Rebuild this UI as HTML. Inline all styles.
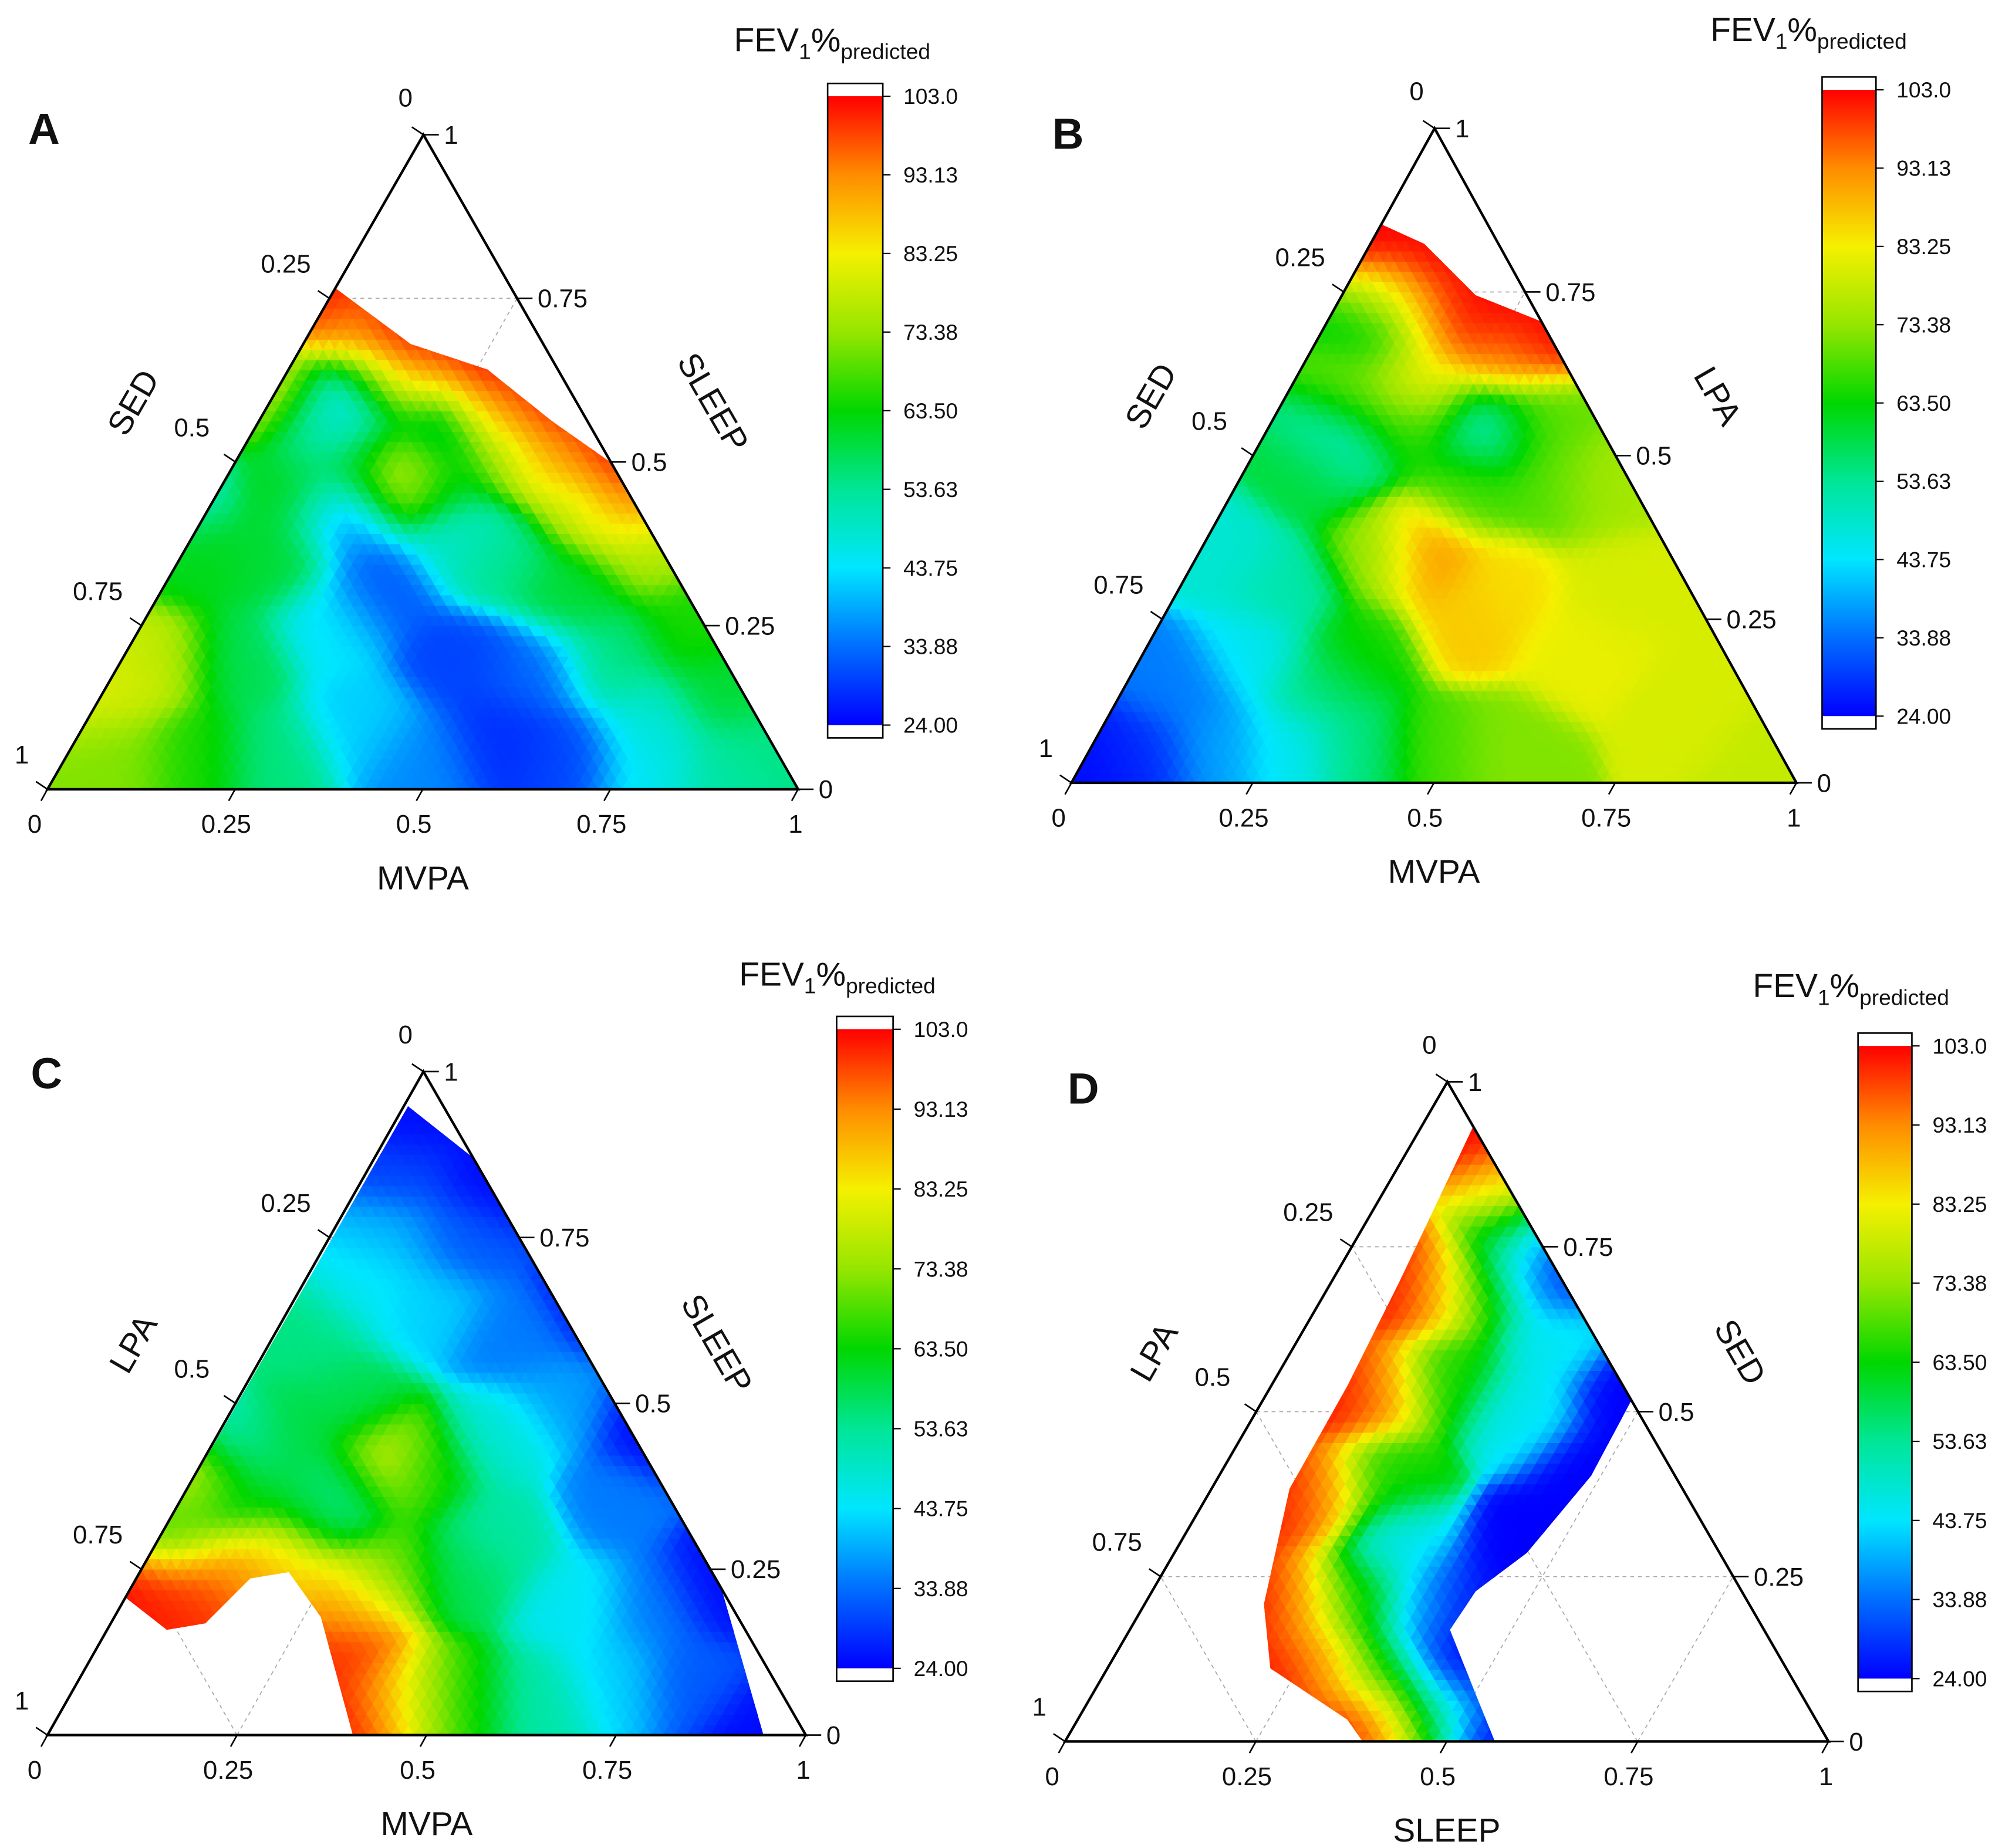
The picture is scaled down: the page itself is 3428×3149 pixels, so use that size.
<!DOCTYPE html>
<html><head><meta charset="utf-8"><style>
html,body{margin:0;padding:0;background:#fff}
svg{display:block}
text{font-family:"Liberation Sans",sans-serif;fill:#111}
</style></head><body>
<svg id="fig" width="3428" height="3149" viewBox="0 0 1568 1440" preserveAspectRatio="none" xmlns="http://www.w3.org/2000/svg">
<defs>
<linearGradient id="cbgrad" x1="0" y1="1" x2="0" y2="0">
<stop offset="0" stop-color="rgb(0,0,255)"/><stop offset="0.125" stop-color="rgb(0,110,255)"/>
<stop offset="0.25" stop-color="rgb(0,230,255)"/><stop offset="0.375" stop-color="rgb(0,230,150)"/>
<stop offset="0.5" stop-color="rgb(0,215,0)"/><stop offset="0.625" stop-color="rgb(150,230,0)"/>
<stop offset="0.75" stop-color="rgb(245,240,0)"/><stop offset="0.875" stop-color="rgb(255,140,0)"/>
<stop offset="1" stop-color="rgb(255,0,0)"/>
</linearGradient>
</defs>
</svg>
<script>
const cbTicks = ["103.0","93.13","83.25","73.38","63.50","53.63","43.75","33.88","24.00"];
const vmin = 24, vmax = 103;
const cmapVals = [24,33.88,43.75,53.63,63.5,73.38,83.25,93.13,103];
const cmapCols = [[0,0,255],[0,110,255],[0,230,255],[0,230,150],[0,215,0],[150,230,0],[245,240,0],[255,140,0],[255,0,0]];
// control points: [u (along base), v (height fraction), FEV1 value]
const ptsA = [[0.378,0.765,103],[0.484,0.67,103],[0.586,0.63,103],[0.672,0.56,103],[0.766,0.48,103],
 [0.37,0.79,103],[0.48,0.70,103],[0.58,0.66,103],[0.67,0.59,103],[0.77,0.51,103],
 [0.4,0.72,90],[0.49,0.63,90],[0.59,0.59,90],[0.67,0.52,90],[0.78,0.43,90],
 [0.526,0.57,50],[0.62,0.52,70],[0.72,0.44,75],[0.8,0.37,75],
 [0.86,0.25,65],[0.9,0.15,60],[0.95,0.05,55],[0.8,0.1,48],[0.75,0.2,55],[0.7,0.3,60],[0.6,0.35,55],[0.55,0.38,48],
 [0.4,0.42,35],[0.45,0.3,32],[0.55,0.2,30],[0.6,0.08,28],[0.7,0.05,30],[0.5,0.05,36],[0.42,0.1,42],[0.38,0.25,44],[0.65,0.18,33],[0.8,0.03,45],[0.9,0.02,52],
 [0.3,0.05,55],[0.25,0.2,58],[0.3,0.35,60],[0.2,0.05,65],[0.1,0.05,72],[0.15,0.2,78],[0.08,0.15,80],[0.2,0.35,62],[0.18,0.45,52],
 [0.467,0.48,88],[0.39,0.58,38],[0.33,0.45,62],[0.304,0.61,80],[0.42,0.5,58],[0.52,0.47,60],[0.36,0.55,55],[0.44,0.62,62]];
const ptsB = [[0.43,0.85,103],[0.5,0.8,103],[0.56,0.73,103],[0.646,0.7,103],
 [0.44,0.88,103],[0.51,0.83,103],[0.57,0.76,103],[0.65,0.73,103],
 [0.5,0.72,95],[0.6,0.66,92],[0.45,0.75,85],[0.43,0.7,60],[0.4,0.6,70],[0.37,0.52,50],[0.33,0.47,60],[0.47,0.55,65],[0.48,0.61,85],
 [0.575,0.54,50],[0.65,0.55,70],[0.66,0.45,68],[0.55,0.45,68],[0.72,0.45,75],[0.487,0.35,93],[0.55,0.25,87],[0.6,0.3,85],[0.42,0.35,72],[0.4,0.2,65],
 [0.7,0.2,82],[0.75,0.3,80],[0.85,0.1,80],[0.95,0.02,78],[0.6,0.05,72],[0.5,0.05,68],[0.4,0.05,55],[0.3,0.05,45],[0.2,0.05,38],[0.1,0.04,28],[0.03,0.02,25],
 [0.15,0.15,35],[0.25,0.2,45],[0.3,0.3,52],[0.22,0.35,48],[0.35,0.15,55]];
const ptsC = [[0.479,0.94,25],[0.589,0.845,25],[0.733,0.66,25],[0.8,0.47,25],[0.885,0.236,25],[0.944,0.0,25],
 [0.5,0.96,25],[0.62,0.85,25],[0.76,0.66,25],[0.83,0.47,25],[0.92,0.23,25],[0.97,0.0,25],
 [0.47,0.85,30],[0.45,0.75,40],[0.55,0.75,32],[0.42,0.68,45],[0.5,0.65,42],[0.62,0.6,35],[0.68,0.5,38],[0.6,0.45,48],[0.75,0.35,35],[0.8,0.2,35],[0.85,0.08,32],
 [0.75,0.08,42],[0.7,0.2,45],[0.65,0.05,52],[0.55,0.05,62],[0.5,0.05,75],[0.45,0.05,90],[0.4,0.03,103],[0.39,0.12,100],[0.4,0.2,90],[0.45,0.25,70],[0.55,0.25,58],
 [0.6,0.3,52],[0.5,0.4,62],[0.45,0.41,82],[0.4,0.5,58],[0.35,0.6,55],[0.3,0.45,60],[0.35,0.35,62],[0.31,0.27,85],[0.25,0.25,92],[0.2,0.22,100],[0.15,0.2,100],[0.11,0.21,103],
 [0.17,0.3,68],[0.25,0.35,60],[0.24,0.44,45],[0.15,0.35,70],[0.2,0.4,85],[0.38,0.36,50]];
const ptsD = [[0.534,0.93,103],[0.437,0.695,103],[0.37,0.54,103],[0.294,0.383,103],[0.26,0.21,103],[0.286,0.09,103],[0.386,0.01,103],
 [0.51,0.95,103],[0.41,0.70,103],[0.34,0.54,103],[0.265,0.38,103],[0.23,0.21,103],[0.255,0.08,103],[0.36,0.0,103],
 [0.639,0.724,24],[0.743,0.52,24],[0.689,0.4,24],[0.605,0.286,24],[0.52,0.21,24],[0.513,0.13,24],[0.555,0.01,24],
 [0.67,0.73,24],[0.78,0.52,24],[0.72,0.39,24],[0.63,0.27,24],[0.55,0.19,24],[0.545,0.12,24],[0.585,0.0,24],
 [0.57,0.85,88],[0.48,0.69,88],[0.41,0.54,88],[0.33,0.38,88],[0.3,0.21,88],[0.33,0.1,88],[0.42,0.02,88],
 [0.59,0.78,65],[0.55,0.69,65],[0.5,0.55,65],[0.42,0.4,65],[0.38,0.22,65],[0.42,0.1,65],[0.47,0.02,65],
 [0.62,0.73,45],[0.65,0.62,45],[0.6,0.5,45],[0.44,0.3,45],[0.48,0.2,45],[0.5,0.05,45]];

const svg = document.getElementById('fig');
const NS = 'http://www.w3.org/2000/svg';
function mk(tag, attrs, parent){const e=document.createElementNS(NS,tag);for(const k in attrs)e.setAttribute(k,attrs[k]);(parent||svg).appendChild(e);return e;}
function colorOf(v){
  v=Math.max(vmin,Math.min(vmax,v));
  for(let i=0;i<cmapVals.length-1;i++){if(v<=cmapVals[i+1]){const t=(v-cmapVals[i])/(cmapVals[i+1]-cmapVals[i]);const a=cmapCols[i],b=cmapCols[i+1];return 'rgb('+a.map((c,k)=>Math.round(c+(b[k]-c)*t)).join(',')+')';}}
  return 'rgb(255,0,0)';
}
function interp(pts,u,v){
  let s=0,w=0;const s2=2*0.042*0.042;
  for(const p of pts){const d=(p[0]-u)**2+(p[1]-v)**2;const wt=Math.exp(-d/s2)+1e-9/(d*d+1e-8);s+=wt*p[2];w+=wt;}
  return s/w;
}

const panels = [
 {id:'A',L:[37,615],R:[622,615],T:[330,105],pts:ptsA,left:'SED',right:'SLEEP',bottom:'MVPA',
  clip:[[37,615],[258,222],[320,268],[380,288],[430,328],[487,368],[622,615]],
  cb:[645,65,688,575],title:[572,40],letter:[22,112]},
 {id:'B',L:[835,610],R:[1400,610],T:[1118,100],pts:ptsB,left:'SED',right:'LPA',bottom:'MVPA',
  clip:[[835,610],[1077,175],[1110,190],[1150,230],[1200,250],[1210,258],[1400,610]],
  cb:[1420,60,1462,568],title:[1333,32],letter:[820,116]},
 {id:'C',L:[37,1352],R:[628,1352],T:[330,835],pts:ptsC,left:'LPA',right:'SLEEP',bottom:'MVPA',
  clip:[[318,862],[98,1245],[130,1270],[160,1265],[195,1230],[225,1225],[250,1260],[275,1352],[595,1352],[560,1230],[510,1110],[470,1010],[385,915]],
  cb:[652,792,696,1310],title:[576,768],letter:[24,848]},
 {id:'D',L:[830,1357],R:[1425,1357],T:[1128,843],pts:ptsD,left:'LPA',right:'SED',bottom:'SLEEP',
  clip:[[1148,878],[1090,1000],[1050,1080],[1005,1160],[985,1250],[990,1300],[1050,1340],[1062,1357],[1165,1357],[1150,1320],[1130,1270],[1150,1240],[1190,1210],[1240,1150],[1272,1090],[1210,985]],
  cb:[1448,805,1490,1318],title:[1366,777],letter:[832,860]}
];

panels.forEach((P,pi)=>{
  const g=mk('g',{});
  
  
  const [L,R,T]=[P.L,P.R,P.T];
  const pt=(a,b)=>[L[0]+a*(R[0]-L[0])+b*(T[0]-L[0]), L[1]+a*(R[1]-L[1])+b*(T[1]-L[1])];
  const grid=mk('g',{stroke:'#aaa','stroke-width':0.8,'stroke-dasharray':'3,3',fill:'none'},g);
  
  
  [0.25,0.5,0.75].forEach(f=>{
    let p1=pt(0,f),p2=pt(1-f,f);mk('line',{x1:p1[0],y1:p1[1],x2:p2[0],y2:p2[1]},grid);
    p1=pt(f,0);p2=pt(f,1-f);mk('line',{x1:p1[0],y1:p1[1],x2:p2[0],y2:p2[1]},grid);
    p1=pt(f,0);p2=pt(0,f);mk('line',{x1:p1[0],y1:p1[1],x2:p2[0],y2:p2[1]},grid);
  });
  const cp=mk('clipPath',{id:'clip'+P.id},svg.querySelector('defs'));
  mk('polygon',{points:P.clip.map(p=>p.join(',')).join(' ')},cp);
  const field=mk('g',{'clip-path':'url(#clip'+P.id+')'},g);
  
  
  const N=64;
  const val=(x,y)=>interp(P.pts,(x-L[0])/(R[0]-L[0]),(L[1]-y)/(L[1]-T[1]));
  for(let i=0;i<N;i++)for(let j=0;j<N-i;j++){
    const a=pt(i/N,j/N),b=pt((i+1)/N,j/N),c=pt(i/N,(j+1)/N);
    let cx=(a[0]+b[0]+c[0])/3,cy=(a[1]+b[1]+c[1])/3,col=colorOf(val(cx,cy));
    mk('polygon',{points:[a,b,c].map(p=>p.join(',')).join(' '),fill:col,stroke:col,'stroke-width':0.7},field);
    if(i+j<N-1){const d=pt((i+1)/N,(j+1)/N);cx=(b[0]+c[0]+d[0])/3;cy=(b[1]+c[1]+d[1])/3;col=colorOf(val(cx,cy));
      mk('polygon',{points:[b,d,c].map(p=>p.join(',')).join(' '),fill:col,stroke:col,'stroke-width':0.7},field);}
  }
  const tri=mk('polygon',{points:[L,R,T].map(p=>p.join(',')).join(' '),fill:'none',stroke:'#000','stroke-width':2},g);
  
  
  const tl=['0','0.25','0.5','0.75','1'];
  const tk=mk('g',{stroke:'#000','stroke-width':1.2},g);
  const lab=mk('g',{'font-size':20},g);
  
  
  for(let k=0;k<5;k++){
    const f=k/4;
    let p=pt(f,0);mk('line',{x1:p[0],y1:p[1],x2:p[0]-5,y2:p[1]+9},tk);
    let t=mk('text',{x:p[0]-(k==0?10:k==4?2:7),y:p[1]+34,'text-anchor':'middle'},lab);t.textContent=tl[k];
    p=[T[0]+f*(L[0]-T[0]),T[1]+f*(L[1]-T[1])];mk('line',{x1:p[0],y1:p[1],x2:p[0]-9,y2:p[1]-6},tk);
    t=mk('text',{x:p[0]-(k==4?20:k==0?14:34),y:p[1]-(k==0?22:20),'text-anchor':'middle'},lab);t.textContent=tl[k];
    p=[T[0]+f*(R[0]-T[0]),T[1]+f*(R[1]-T[1])];mk('line',{x1:p[0],y1:p[1],x2:p[0]+12,y2:p[1]},tk);
    t=mk('text',{x:p[0]+16,y:p[1]+7,'text-anchor':'start'},lab);t.textContent=tl[4-k];
  }
  let t=mk('text',{x:(L[0]+R[0])/2,y:L[1]+78,'text-anchor':'middle','font-size':26},g);t.textContent=P.bottom;
  
  let mx=(L[0]+T[0])/2-72,my=(L[1]+T[1])/2-42;
  t=mk('text',{x:mx,y:my,'text-anchor':'middle','font-size':26,transform:'rotate(-60 '+mx+' '+my+')'},g);t.textContent=P.left;
  
  mx=(R[0]+T[0])/2+72;my=(R[1]+T[1])/2-42;
  t=mk('text',{x:mx,y:my,'text-anchor':'middle','font-size':26,transform:'rotate(60 '+mx+' '+my+')'},g);t.textContent=P.right;
  
  t=mk('text',{x:P.letter[0],y:P.letter[1],'font-size':34,'font-weight':'bold','font-family':'Liberation Serif, serif'},g);t.textContent=P.id;
  
  const [x0,y0,x1,y1]=P.cb;const cap=10;
  const cb=mk('g',{},g);
  
  
  mk('rect',{x:x0,y:y0+cap,width:x1-x0,height:y1-y0-2*cap,fill:'url(#cbgrad)'},cb);
  mk('rect',{x:x0,y:y0,width:x1-x0,height:y1-y0,fill:'none',stroke:'#000','stroke-width':1.2},cb);
  cbTicks.forEach((s,k)=>{const y=y0+cap+k*(y1-y0-2*cap)/(cbTicks.length-1);
    mk('line',{x1:x1,y1:y,x2:x1+6,y2:y,stroke:'#000','stroke-width':1},cb);
    const tt=mk('text',{x:x1+16,y:y+6,'font-size':17},cb);tt.textContent=s;});
  t=mk('text',{x:P.title[0],y:P.title[1],'font-size':26},g);
  
  t.innerHTML='FEV<tspan font-size="17" dy="6">1</tspan><tspan dy="-6">%</tspan><tspan font-size="17" dy="6">predicted</tspan>';
});
</script>
</body></html>
